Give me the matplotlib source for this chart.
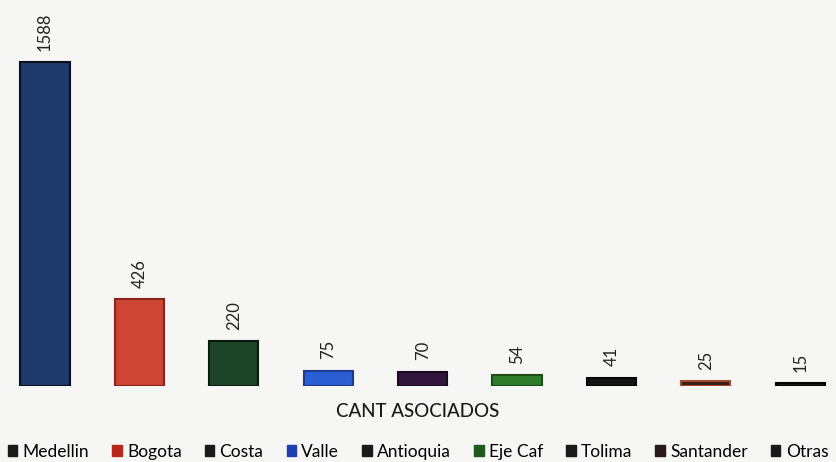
import matplotlib.pyplot as plt

regiones = ["Medellin", "Bogota", "Costa", "Valle", "Antioquia",
            "Eje Caf", "Tolima", "Santander", "Otras"]
asociados = [1588, 426, 220, 75, 70, 54, 41, 25, 15]
colores = ["#1d3a6b", "#cf4636", "#1c4527", "#2d5fd4", "#33163d",
           "#2f7d2c", "#141414", "#3b1c16", "#1a1a1a"]
bordes = ["#0a0f1e", "#8a2418", "#0b1a0e", "#1b3c8c", "#1a0a20",
          "#1b4d18", "#050505", "#a04a30", "#050505"]
leyenda = ["#1a1a1a", "#b8281c", "#1a1a1a", "#1f3fb0", "#1a1a1a",
           "#1e5a1e", "#1a1a1a", "#2a1a1a", "#1a1a1a"]

plt.rcParams["font.family"] = ["Lato", "DejaVu Sans"]

fig = plt.figure(figsize=(8.36, 4.62), dpi=100)
fig.patch.set_facecolor("#f6f6f4")
ax = fig.add_axes([0, 0.1645, 1, 0.8355])
ax.set_facecolor("#f6f6f4")

for i, (r, v) in enumerate(zip(regiones, asociados)):
    ax.bar(i, v, width=0.52, color=colores[i], edgecolor=bordes[i],
           linewidth=1.5, label=r)
    ax.text(i, v + 55, str(v), rotation=90, ha="center", va="bottom",
            fontsize=12, color="#222222")

ax.set_xlim(-0.477, 8.379)
ax.set_ylim(0, 1892)
ax.axis("off")

fig.text(0.5, 0.11, "CANT ASOCIADOS", ha="center", va="center",
         fontsize=13.5, color="#1a1a1a", fontweight="medium")

handles = [plt.Rectangle((0, 0), 1, 1, color=c) for c in leyenda]
fig.legend(handles, regiones, loc="center", bbox_to_anchor=(0.5, 0.022),
           ncol=9, frameon=False, fontsize=12.5, handlelength=0.55,
           handleheight=0.55, handletextpad=0.3, columnspacing=1.33,
           borderpad=0)

plt.savefig("out.png", dpi=100, facecolor=fig.get_facecolor())
